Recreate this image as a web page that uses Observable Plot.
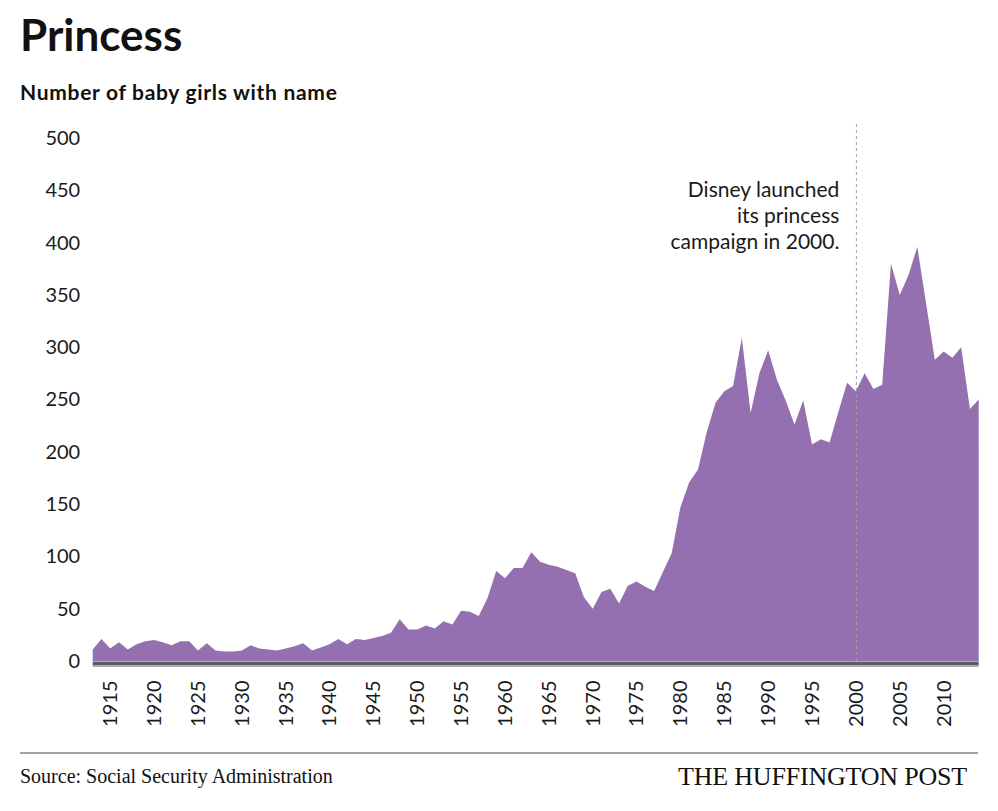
<!DOCTYPE html>
<html>
<head>
<meta charset="utf-8">
<script src="https://cdn.jsdelivr.net/npm/d3@7"></script>
<script src="https://cdn.jsdelivr.net/npm/@observablehq/plot@0.6"></script>
<style>
  html, body { margin: 0; padding: 0; background: #ffffff; }
  #page { position: relative; width: 998px; height: 811px; overflow: hidden; font-family: Lato, "Open Sans", sans-serif; color: #111; }
  #title { position: absolute; left: 20px; top: 12px; font-size: 44px; line-height: 44px; font-weight: 700; letter-spacing: 0px; }
  #subtitle { position: absolute; left: 20px; top: 81px; font-size: 21px; line-height: 21px; font-weight: 700; letter-spacing: 0.7px; }
  #chart { position: absolute; left: 0; top: 110px; }
  #footer-rule { position: absolute; left: 20px; top: 752px; width: 958px; border-top: 2px solid #a3a3a3; }
  #source { position: absolute; left: 20px; top: 764px; font-family: "Liberation Serif", serif; font-size: 20px; line-height: 24px; color: #111; }
  #brand { position: absolute; right: 31px; top: 762px; font-family: "Liberation Serif", serif; font-size: 26px; line-height: 30px; color: #111; letter-spacing: -0.2px; }
</style>
</head>
<body>
<div id="page">
  <div id="title">Princess</div>
  <div id="subtitle">Number of baby girls with name</div>
  <div id="chart"></div>
  <div id="footer-rule"></div>
  <div id="source">Source: Social Security Administration</div>
  <div id="brand">THE HUFFINGTON POST</div>
</div>
<script>
// Baby girls named Princess, per year (Social Security Administration)
const years = [
  1913, 1914, 1915, 1916, 1917, 1918, 1919, 1920, 1921, 1922,
  1923, 1924, 1925, 1926, 1927, 1928, 1929, 1930, 1931, 1932,
  1933, 1934, 1935, 1936, 1937, 1938, 1939, 1940, 1941, 1942,
  1943, 1944, 1945, 1946, 1947, 1948, 1949, 1950, 1951, 1952,
  1953, 1954, 1955, 1956, 1957, 1958, 1959, 1960, 1961, 1962,
  1963, 1964, 1965, 1966, 1967, 1968, 1969, 1970, 1971, 1972,
  1973, 1974, 1975, 1976, 1977, 1978, 1979, 1980, 1981, 1982,
  1983, 1984, 1985, 1986, 1987, 1988, 1989, 1990, 1991, 1992,
  1993, 1994, 1995, 1996, 1997, 1998, 1999, 2000, 2001, 2002,
  2003, 2004, 2005, 2006, 2007, 2008, 2009, 2010, 2011, 2012,
  2013, 2014
];
const counts = [
  11, 21, 12, 18, 11, 16, 19, 20, 18, 15,
  19, 19, 10, 17, 10, 9, 9, 10, 15, 12,
  11, 10, 12, 14, 17, 10, 13, 16, 21, 16,
  21, 20, 22, 24, 27, 40, 30, 30, 34, 31,
  38, 35, 48, 47, 43, 60, 86, 79, 89, 89,
  104, 95, 92, 90, 87, 84, 61, 50, 66, 69,
  55, 72, 76, 71, 67, 85, 103, 147, 171, 183,
  219, 247, 258, 263, 309, 237, 275, 297, 269, 249,
  226, 249, 207, 212, 209, 238, 266, 258, 275, 260,
  264, 380, 350, 369, 396, 342, 288, 296, 290, 300,
  241, 250
];
const yTicks = [0, 50, 100, 150, 200, 250, 300, 350, 400, 450, 500];
const xTicks = [1915, 1920, 1925, 1930, 1935, 1940, 1945, 1950, 1955, 1960,
                1965, 1970, 1975, 1980, 1985, 1990, 1995, 2000, 2005, 2010];

// Disney's princess campaign marker
const campaignYear = 2000;
const campaignNote = ["Disney launched", "its princess", "campaign in 2000."];

const series = years.map((year, i) => ({year, count: counts[i]}));

const chart = Plot.plot({
  width: 998,
  height: 630,
  marginLeft: 92.7,
  marginRight: 19.3,
  marginTop: 28,
  marginBottom: 79,
  style: {fontFamily: "Lato, 'Open Sans', sans-serif", fontSize: "20px", color: "#1a1a1a", background: "transparent"},
  x: {domain: [1913, 2014]},
  y: {domain: [0, 500]},
  marks: [
    Plot.areaY(series, {x: "year", y: "count", fill: "#9470b0"}),
    Plot.ruleX([campaignYear], {x: d => d, y1: 0, y2: 515, stroke: "#a0a0a0", strokeWidth: 1, strokeDasharray: "3,3"}),
    Plot.ruleY([0], {stroke: "#5c5b60", strokeWidth: 4, dy: 2}),
    Plot.ruleY([0], {stroke: "#a9a9ab", strokeWidth: 1.5, dy: 4.8}),
    Plot.axisY({ticks: yTicks, tickSize: 0, tickPadding: 13, fontSize: 20, label: null}),
    Plot.axisX({ticks: xTicks, tickSize: 0, tickPadding: 19, tickRotate: -90, fontSize: 20, label: null, tickFormat: d => String(d)}),
    Plot.text([campaignNote.join("\n")], {
      x: campaignYear, y: 427, dx: -17, text: d => d,
      textAnchor: "end", lineAnchor: "middle", lineHeight: 1.22, fontSize: 21, fill: "#1a1a1a",
      style: "letter-spacing: 0.3px"
    })
  ]
});
document.getElementById("chart").appendChild(chart);
</script>
</body>
</html>
